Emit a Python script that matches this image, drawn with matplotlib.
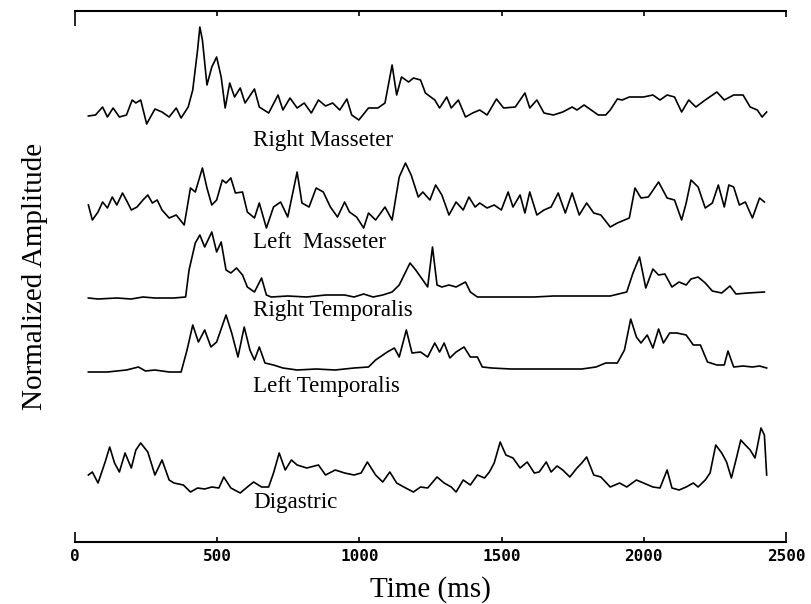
import matplotlib
matplotlib.use("Agg")
import matplotlib.pyplot as plt
import numpy as np

# ---- data (time in ms, amplitude in normalized units above each trace's rest level) ----
rm_t = [47,72,97,114,134,156,181,201,214,231,252,281,306,331,356,373,398,414,431,439,448,464,481,498,514,528,544,561,581,598,631,648,681,714,731,756,781,806,831,856,881,906,931,956,973,998,1032,1065,1090,1115,1131,1148,1173,1190,1215,1232,1265,1282,1307,1323,1348,1373,1398,1423,1449,1482,1507,1548,1582,1599,1624,1649,1682,1715,1748,1765,1790,1815,1840,1866,1882,1907,1924,1949,1999,2032,2057,2082,2108,2133,2158,2183,2216,2257,2283,2316,2349,2374,2399,2416,2432]
rm_a = [1,2,10,0,9,0,2,17,14,17,-7,8,5,0,9,-1,10,27,67,90,77,32,50,60,40,9,34,20,29,14,28,10,4,22,7,19,9,14,4,17,11,14,7,18,2,-3,9,9,14,52,22,40,35,39,37,24,17,9,20,9,17,0,4,7,2,18,9,10,24,9,17,4,2,5,10,7,12,7,2,2,7,18,17,20,20,22,17,22,20,5,17,10,17,25,17,22,22,10,7,0,5]

lm_t = [47,61,81,97,114,131,147,167,184,198,218,239,256,272,289,306,331,356,384,406,423,448,464,481,498,518,531,548,564,589,606,631,648,673,698,723,748,781,798,823,848,873,898,923,948,965,990,1015,1032,1057,1090,1115,1140,1162,1182,1207,1223,1248,1268,1290,1315,1340,1365,1385,1407,1423,1449,1474,1499,1523,1540,1565,1582,1599,1624,1649,1674,1699,1724,1748,1773,1799,1824,1849,1882,1907,1949,1969,1990,2016,2052,2082,2108,2133,2149,2166,2191,2216,2241,2262,2283,2299,2316,2336,2357,2382,2407,2424]
lm_a = [15,0,8,18,12,23,15,27,18,10,13,20,25,17,20,10,2,5,-5,32,28,52,32,15,20,40,37,42,27,28,8,2,17,-8,13,18,3,48,17,13,32,28,13,3,18,8,3,-8,7,0,13,0,43,57,45,23,28,20,35,25,5,18,10,23,13,17,12,15,10,28,13,25,7,28,5,10,13,27,7,27,5,17,7,5,-7,-3,2,32,22,23,38,22,20,0,17,40,33,12,17,35,13,35,33,15,18,2,22,18]

rt_t = [47,81,147,198,239,281,348,389,401,423,439,456,481,498,514,531,548,568,589,606,631,656,673,690,748,815,881,948,981,1015,1048,1082,1115,1140,1178,1198,1223,1240,1257,1273,1290,1315,1340,1373,1390,1415,1482,1548,1615,1682,1748,1815,1882,1940,1962,1985,2007,2032,2052,2074,2099,2124,2149,2166,2191,2216,2241,2274,2303,2324,2366,2424]
rt_a = [0,-1,0,-1,1,0,0,1,28,55,63,51,66,46,56,28,25,30,23,11,6,20,3,1,2,1,3,3,1,4,1,3,6,13,35,28,18,11,51,13,11,13,11,16,6,1,1,1,1,2,2,2,2,6,25,41,10,29,23,24,11,16,13,19,21,15,7,5,12,4,5,6]

lt_t = [47,114,181,223,248,281,331,373,394,414,434,456,478,498,531,551,573,595,615,631,648,668,698,731,781,848,915,981,1032,1057,1098,1123,1140,1165,1185,1215,1240,1265,1282,1298,1318,1340,1368,1390,1415,1432,1465,1532,1615,1699,1782,1832,1866,1907,1932,1954,1974,1990,2012,2032,2052,2069,2091,2116,2149,2174,2199,2224,2257,2283,2296,2316,2349,2382,2407,2432]
lt_a = [0,0,2,5,1,2,0,0,22,47,30,42,25,30,57,39,15,45,22,12,25,9,7,4,2,3,2,4,5,12,20,24,15,42,19,20,15,29,20,29,14,20,25,15,15,5,4,3,3,3,3,5,9,9,22,53,35,29,37,24,43,29,39,39,37,27,27,10,7,7,21,5,6,5,6,4]

dg_t = [47,61,81,106,122,139,156,176,198,214,231,256,281,306,331,348,381,406,431,456,481,506,523,548,581,606,628,656,681,698,718,739,761,781,815,856,881,915,948,981,1006,1028,1057,1082,1107,1131,1156,1190,1215,1240,1273,1298,1323,1340,1365,1390,1415,1440,1457,1474,1495,1515,1540,1565,1590,1615,1632,1657,1674,1695,1715,1740,1765,1782,1799,1824,1849,1882,1915,1940,1974,1999,2032,2057,2082,2099,2124,2149,2174,2191,2216,2233,2253,2274,2291,2308,2324,2341,2357,2374,2391,2399,2412,2424,2432]
dg_a = [15,18,7,28,43,27,18,37,22,40,47,38,15,30,10,7,5,-2,2,1,3,2,13,2,-3,3,8,3,3,17,37,20,30,25,22,25,15,20,17,15,17,28,15,8,18,7,3,-2,3,2,13,7,3,-2,10,5,15,12,18,27,48,35,32,22,28,17,18,28,18,24,20,13,22,27,33,15,13,3,7,3,10,7,3,2,20,2,0,3,7,3,10,17,45,37,28,12,30,50,45,40,32,43,62,55,15]

muscles = ["Right Masseter", "Left  Masseter", "Right Temporalis", "Left Temporalis", "Digastric"]
trace_times = [rm_t, lm_t, rt_t, lt_t, dg_t]
trace_amps = [rm_a, lm_a, rt_a, lt_a, dg_a]
trace_offsets = [425, 322, 244, 170, 52]
label_t = 626
label_y = [396, 294, 226, 150, 34]

x_ticks = [0, 500, 1000, 1500, 2000, 2500]
x_ticklabels = ["0", "500", "1000", "1500", "2000", "2500"]

# ---- figure ----
W, H = 811, 604
fig = plt.figure(figsize=(W / 100, H / 100), dpi=100)
ax = fig.add_axes([75 / W, 62 / H, 711 / W, 531 / H])

for t, a, off in zip(trace_times, trace_amps, trace_offsets):
    assert len(t) == len(a)
    ax.plot(t, np.asarray(a) + off, color="black", lw=1.2, solid_joinstyle="round")

serif = ["Liberation Serif", "DejaVu Serif"]
for name, ly in zip(muscles, label_y):
    ax.text(label_t, ly, name, family=serif, fontsize=16.6, ha="left", va="baseline")

ax.set_xlim(0, 2500)
ax.set_ylim(0, 531)
ax.set_yticks([])
ax.set_xticks(x_ticks)
ax.set_xticklabels(x_ticklabels, family="DejaVu Sans Mono", fontweight="bold", fontsize=11.5)
ax.tick_params(axis="x", direction="in", top=True, bottom=True, labeltop=False,
               length=3.6, width=1.2, pad=5, color="black")

for s in ("left", "right"):
    ax.spines[s].set_visible(False)
for s in ("top", "bottom"):
    ax.spines[s].set_linewidth(1.5)

ax.set_xlabel("Time (ms)", family=serif, fontsize=21, va="center")
ax.xaxis.set_label_coords(0.5, -48 / 531)
ax.set_ylabel("Normalized Amplitude", family=serif, fontsize=21, va="center")
ax.yaxis.set_label_coords(-40 / 711, 0.5)

ticks = ax.xaxis.get_major_ticks()
ticks[0].tick1line.set_markersize(7.2)
ticks[-1].tick1line.set_markersize(7.2)
ticks[0].tick2line.set_markersize(10.8)
ticks[-1].tick2line.set_markersize(4.5)

fig.savefig("out.png", dpi=100)
